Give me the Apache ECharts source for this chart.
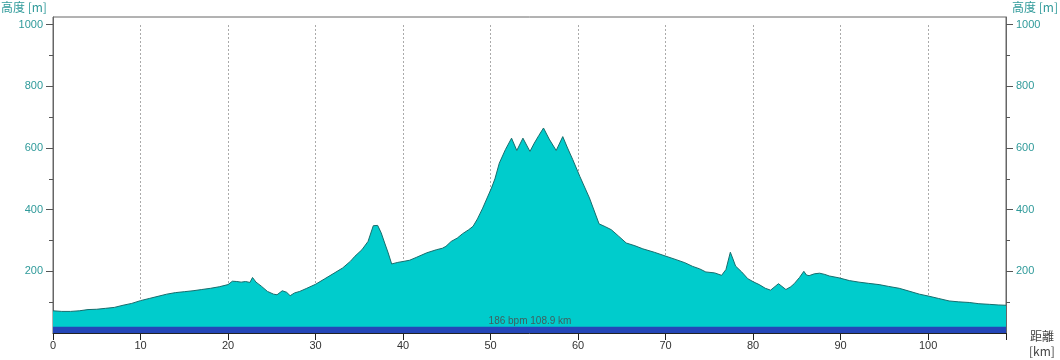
<!DOCTYPE html>
<html><head><meta charset="utf-8">
<script src="https://cdn.jsdelivr.net/npm/echarts@6/dist/echarts.min.js"></script>
<style>html,body{margin:0;padding:0;background:#fff}#c{width:1060px;height:360px}</style>
</head><body><div id="c"></div>
<script>
var dist = [0,1,2,3,4,5,6,7,8,9,10,11,12,13,14,15,16,17,18,19,20,20.5,21,21.5,22,22.5,22.8,23.2,23.8,24.5,25.2,25.6,26.2,26.7,27.1,27.6,28.2,29,30,31,32,33.1,34,34.5,35.3,36,36.6,37.1,37.5,37.9,38.3,38.7,39.4,40,40.75,41.5,42.7,43.8,44.5,44.9,45.5,46.2,46.8,47.5,48,48.5,49.1,50.1,50.5,51,51.7,52.4,53.0,53.7,54.5,55.0,55.5,56.05,56.7,57.5,58.25,58.8,59.4,60.2,61.3,62.4,63.1,63.8,64.6,65.5,66.5,67.4,68.7,70.05,71.2,72.2,73.1,73.9,74.6,75.6,76.4,76.9,77.4,77.7,78.0,78.7,79.4,80.1,80.7,81.4,82.0,82.9,83.75,84.3,84.7,85.3,85.8,86.1,86.4,87.0,87.6,88.2,88.7,89.8,91,92.1,93.2,94.4,95.5,96.7,97.8,99,100,101.2,102.4,103.5,104.7,105.8,107,108,108.9];
var elev = [72,70,70,72,76,77,80,83,90,96,105,112,119,126,131,134,137,141,145,150,157,168,167,165,167,164,180,165,152,135,126,124,137,132,121,130,135,145,158,175,192,211,233,249,270,297,348,349,325,292,260,224,229,232,236,245,260,270,275,281,297,308,322,335,346,370,405,470,500,551,595,632,592,632,589,616,640,665,629,592,637,600,562,508,438,354,345,335,315,292,283,273,262,249,238,228,216,208,198,195,187,206,262,240,217,198,176,165,157,145,139,160,141,150,160,180,200,188,186,192,194,190,185,179,170,165,161,157,151,145,136,126,120,112,104,101,99,95,93,91,90];
var totalKm = 108.9;
var bandHeight = 20;
var xTickLabels = [0,10,20,30,40,50,60,70,80,90,100];
var yMajor = [200,400,600,800,1000];
var yMinor = [100,300,500,700,900];
var infoText = '186 bpm 108.9 km';

var profile = dist.map(function(d,i){return [d, elev[i]];});
var band = [[0, bandHeight],[totalKm, bandHeight]];
var teal = '#2f9a9a';
var FF = 'Liberation Sans, Arial, sans-serif';
var CJK = 'Noto Sans CJK JP, sans-serif';

function yAx(pos, major){
  return {
    type:'value', gridIndex:0, position:pos, min:0, max:1025,
    axisLine:{show:major, lineStyle:{color:'#666', width:1}},
    axisTick:{show:true, inside:false, length: major?7:4, customValues: major?yMajor:yMinor, lineStyle:{color:'#555'}},
    axisLabel:{show:major, customValues: yMajor, color:teal, fontSize:11, fontFamily:FF, margin:10,
      formatter:function(v){return String(v);}},
    splitLine:{show:false}
  };
}

var chart = echarts.init(document.getElementById('c'), null, {renderer:'canvas'});
chart.setOption({
  animation:false,
  backgroundColor:'#fff',
  title:[
    {text:'高度 [m]', left:1, top:1, textStyle:{color:teal, fontSize:12, fontWeight:'normal', fontFamily:CJK}, padding:0},
    {text:'高度 [m]', right:2, top:1, textStyle:{color:teal, fontSize:12, fontWeight:'normal', fontFamily:CJK}, padding:0},
    {text:'距離', left:1030, top:330, textStyle:{color:'#444', fontSize:12, fontWeight:'normal', fontFamily:CJK}, padding:0},
    {text:'[km]', left:1029, top:345, textStyle:{color:'#444', fontSize:12, fontWeight:'normal', fontFamily:CJK}, padding:0},
    {text:infoText, left:'center', top:316, textStyle:{color:'#3f5f5f', fontSize:10, fontWeight:'normal', fontFamily:FF}, padding:0}
  ],
  grid:[
    {left:53, right:54, top:17, bottom:27, show:true, borderColor:'#666', borderWidth:1, backgroundColor:'transparent'},
    {left:53, right:54, top:25, bottom:27}
  ],
  xAxis:[
    {type:'value', gridIndex:0, min:0, max:totalKm, interval:10,
     axisLine:{lineStyle:{color:'#222', width:1}},
     axisTick:{length:7, customValues:xTickLabels.concat([totalKm]), lineStyle:{color:'#222'}},
     axisLabel:{customValues:xTickLabels, color:'#333', fontSize:11, fontFamily:FF, margin:7,
       formatter:function(v){return String(v);}},
     splitLine:{show:false}},
    {type:'value', gridIndex:1, min:0, max:totalKm, interval:10,
     axisLine:{show:false}, axisTick:{show:false}, axisLabel:{show:false},
     splitLine:{show:true, showMinLine:false, showMaxLine:false, lineStyle:{color:'#aaa', type:[2,2], width:1}}}
  ],
  yAxis:[
    yAx('left', true), yAx('left', false), yAx('right', true), yAx('right', false),
    {type:'value', gridIndex:1, min:0, max:1000, show:false, splitLine:{show:false}}
  ],
  series:[
    {type:'line', xAxisIndex:0, yAxisIndex:0, data:profile, showSymbol:false, symbol:'none',
     lineStyle:{color:'#176d6d', width:1}, areaStyle:{color:'#00cccc', opacity:1}, z:2},
    {type:'line', xAxisIndex:0, yAxisIndex:0, data:band, showSymbol:false, symbol:'none',
     lineStyle:{width:0}, areaStyle:{color:'#2446b8', opacity:1}, z:3}
  ]
});
</script></body></html>
